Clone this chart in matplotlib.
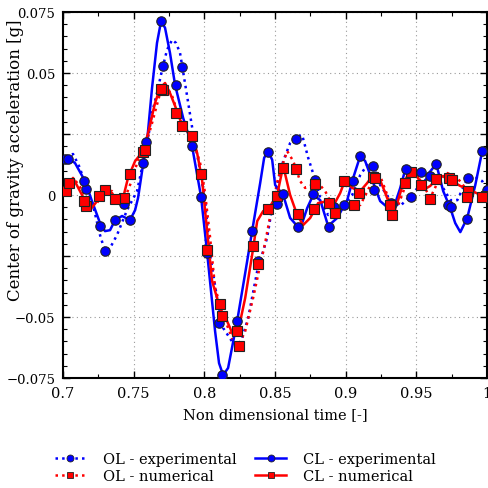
import matplotlib
matplotlib.use("Agg")

import matplotlib.pyplot as plt
from matplotlib.ticker import FixedLocator, FixedFormatter, MultipleLocator

plt.rcParams["font.family"] = ["DejaVu Serif"]
plt.rcParams["font.size"] = 10.5

# --- open loop, experimental (blue dotted) ---
ol_exp_t = [0.700, 0.7028, 0.7071, 0.7120, 0.7163, 0.7212, 0.7262, 0.7297, 0.7333, 0.7382,
            0.7453, 0.7524, 0.7566, 0.7602, 0.7630, 0.7665, 0.7701, 0.7736, 0.7772, 0.7800,
            0.7828, 0.7878, 0.7920, 0.7956, 0.8005, 0.8041, 0.8090, 0.8133, 0.8204, 0.8253,
            0.8310, 0.8374, 0.8444, 0.8487, 0.8558, 0.8607, 0.8650, 0.8692, 0.8735, 0.8784,
            0.8834, 0.8876, 0.8926, 0.8982, 0.9046, 0.9103, 0.9152, 0.9195, 0.9244, 0.9315,
            0.9386, 0.9457, 0.9528, 0.9598, 0.9669, 0.9740, 0.9790, 0.9846, 0.9903, 0.9966, 1.000]
ol_exp_a = [0.0131, 0.0160, 0.0168, 0.0111, 0.0029, -0.0041, -0.0164, -0.0230, -0.0217, -0.0164,
            -0.0062, 0.0016, 0.0131, 0.0234, 0.0336, 0.0418, 0.0513, 0.0595, 0.0636, 0.0623,
            0.0582, 0.0406, 0.0254, 0.0144, -0.0021, -0.0246, -0.0422, -0.0545, -0.0607, -0.0615,
            -0.0504, -0.0312, -0.0176, -0.0025, 0.0139, 0.0213, 0.0238, 0.0246, 0.0152, 0.0062,
            -0.0041, -0.0082, -0.0066, -0.0041, 0.0000, 0.0082, 0.0123, 0.0119, 0.0041, -0.0021,
            -0.0045, -0.0004, 0.0041, 0.0082, 0.0049, -0.0021, -0.0021, 0.0049, 0.0078, 0.0057, 0.0021]
ol_exp_mt = [0.7014, 0.7163, 0.7297, 0.7432, 0.7566, 0.7708, 0.7842, 0.7977, 0.8104, 0.8246,
             0.8381, 0.8515, 0.8650, 0.8784, 0.8919, 0.9053, 0.9195, 0.9329, 0.9464, 0.9598,
             0.9726, 0.9867, 1.000]
ol_exp_ma = [0.0148, 0.0025, -0.0230, -0.0037, 0.0131, 0.0529, 0.0525, -0.0008, -0.0525, -0.0619,
             -0.0271, -0.0037, 0.0230, 0.0062, -0.0049, 0.0057, 0.0119, -0.0037, -0.0008, 0.0078,
             -0.0041, 0.0070, 0.0021]

# --- closed loop, experimental (blue solid) ---
cl_exp_t = [0.700, 0.7035, 0.7085, 0.7156, 0.7205, 0.7262, 0.7297, 0.7333, 0.7368, 0.7418,
            0.7474, 0.7510, 0.7531, 0.7566, 0.7595, 0.7630, 0.7665, 0.7694, 0.7722, 0.7757,
            0.7793, 0.7850, 0.7913, 0.7977, 0.8020, 0.8076, 0.8104, 0.8133, 0.8168, 0.8232,
            0.8289, 0.8338, 0.8395, 0.8423, 0.8451, 0.8480, 0.8501, 0.8558, 0.8607, 0.8657,
            0.8692, 0.8728, 0.8770, 0.8820, 0.8876, 0.8940, 0.9011, 0.9053, 0.9103, 0.9138,
            0.9174, 0.9244, 0.9301, 0.9351, 0.9386, 0.9421, 0.9464, 0.9506, 0.9577, 0.9641,
            0.9690, 0.9740, 0.9775, 0.9811, 0.9860, 0.9917, 0.9966, 1.000]
cl_exp_a = [0.0144, 0.0152, 0.0131, 0.0057, -0.0025, -0.0115, -0.0148, -0.0144, -0.0103, -0.0086,
            -0.0103, -0.0062, -0.0012, 0.0123, 0.0221, 0.0439, 0.0623, 0.0713, 0.0685, 0.0582,
            0.0451, 0.0316, 0.0201, -0.0008, -0.0238, -0.0558, -0.0689, -0.0738, -0.0709, -0.0517,
            -0.0320, -0.0148, 0.0049, 0.0152, 0.0180, 0.0144, 0.0041, 0.0000, -0.0094, -0.0127,
            -0.0115, -0.0053, 0.0000, -0.0021, -0.0127, -0.0094, -0.0021, 0.0070, 0.0160, 0.0139,
            0.0082, -0.0025, -0.0053, -0.0033, 0.0029, 0.0103, 0.0111, 0.0098, 0.0082, 0.0127,
            0.0016, -0.0053, -0.0115, -0.0152, -0.0094, 0.0041, 0.0180, 0.0193]
cl_exp_mt = [0.7035, 0.7149, 0.7262, 0.7368, 0.7474, 0.7588, 0.7694, 0.7800, 0.7913, 0.8020,
             0.8126, 0.8232, 0.8338, 0.8451, 0.8558, 0.8664, 0.8770, 0.8883, 0.8989, 0.9103,
             0.9202, 0.9322, 0.9428, 0.9535, 0.9641, 0.9747, 0.9860, 0.9966]
cl_exp_ma = [0.0148, 0.0057, -0.0127, -0.0103, -0.0103, 0.0217, 0.0713, 0.0451, 0.0201, -0.0238,
             -0.0738, -0.0517, -0.0148, 0.0176, 0.0004, -0.0131, 0.0004, -0.0131, -0.0041, 0.0160,
             0.0021, -0.0033, 0.0107, 0.0094, 0.0127, -0.0049, -0.0098, 0.0180]

# --- open loop, numerical (red dotted) ---
ol_num_t = [0.700, 0.7035, 0.7085, 0.7134, 0.7191, 0.7241, 0.7297, 0.7347, 0.7389, 0.7439,
            0.7488, 0.7531, 0.7580, 0.7630, 0.7687, 0.7729, 0.7772, 0.7828, 0.7878, 0.7920,
            0.7970, 0.8005, 0.8041, 0.8076, 0.8133, 0.8196, 0.8239, 0.8289, 0.8345, 0.8395,
            0.8430, 0.8466, 0.8522, 0.8586, 0.8629, 0.8678, 0.8713, 0.8763, 0.8805, 0.8855,
            0.8904, 0.8947, 0.8996, 0.9046, 0.9103, 0.9159, 0.9209, 0.9244, 0.9294, 0.9329,
            0.9372, 0.9435, 0.9478, 0.9542, 0.9598, 0.9655, 0.9719, 0.9790, 0.9846, 0.9903,
            0.9973, 1.000]
ol_num_a = [0.0004, 0.0029, 0.0062, 0.0021, -0.0053, -0.0033, 0.0021, 0.0016, -0.0021, -0.0012,
            0.0062, 0.0144, 0.0193, 0.0295, 0.0418, 0.0447, 0.0406, 0.0308, 0.0262, 0.0226,
            0.0131, 0.0008, -0.0176, -0.0381, -0.0492, -0.0586, -0.0619, -0.0558, -0.0422, -0.0287,
            -0.0197, -0.0086, 0.0070, 0.0180, 0.0139, 0.0057, 0.0029, 0.0041, 0.0049, 0.0016,
            -0.0041, -0.0066, -0.0041, -0.0033, -0.0041, 0.0021, 0.0090, 0.0078, 0.0000, -0.0074,
            -0.0041, 0.0057, 0.0098, 0.0049, -0.0012, 0.0057, 0.0090, 0.0070, 0.0029, -0.0004,
            -0.0012, -0.0004]
ol_num_mt = [0.7021, 0.7163, 0.7297, 0.7432, 0.7566, 0.7708, 0.7842, 0.7977, 0.8111, 0.8246,
             0.8381, 0.8515, 0.8650, 0.8784, 0.8926, 0.9060, 0.9195, 0.9329, 0.9464, 0.9598,
             0.9733, 0.9867, 0.9995]
ol_num_ma = [0.0016, -0.0045, 0.0021, -0.0012, 0.0176, 0.0431, 0.0283, 0.0086, -0.0447, -0.0619,
             -0.0283, -0.0004, 0.0107, 0.0045, -0.0074, -0.0041, 0.0074, -0.0082, 0.0094, -0.0016,
             0.0070, 0.0016, -0.0004]

# --- closed loop, numerical (red solid) ---
cl_num_t = [0.700, 0.7035, 0.7071, 0.7120, 0.7191, 0.7241, 0.7297, 0.7347, 0.7389, 0.7425,
            0.7460, 0.7510, 0.7566, 0.7602, 0.7651, 0.7687, 0.7722, 0.7757, 0.7793, 0.7850,
            0.7913, 0.7949, 0.7984, 0.8005, 0.8055, 0.8111, 0.8161, 0.8204, 0.8239, 0.8289,
            0.8338, 0.8374, 0.8416, 0.8466, 0.8515, 0.8558, 0.8607, 0.8657, 0.8699, 0.8749,
            0.8805, 0.8869, 0.8912, 0.8961, 0.8996, 0.9046, 0.9103, 0.9152, 0.9188, 0.9223,
            0.9266, 0.9315, 0.9365, 0.9407, 0.9457, 0.9506, 0.9549, 0.9598, 0.9648, 0.9690,
            0.9740, 0.9811, 0.9881, 0.9952, 1.000]
cl_num_a = [0.0016, 0.0041, 0.0070, 0.0016, -0.0062, -0.0025, 0.0029, 0.0008, -0.0033, -0.0012,
            0.0070, 0.0139, 0.0180, 0.0254, 0.0377, 0.0439, 0.0459, 0.0418, 0.0365, 0.0275,
            0.0242, 0.0172, 0.0062, -0.0062, -0.0353, -0.0463, -0.0517, -0.0574, -0.0558, -0.0422,
            -0.0246, -0.0107, -0.0066, -0.0045, 0.0000, 0.0119, 0.0000, -0.0082, -0.0123, -0.0094,
            -0.0033, -0.0025, -0.0045, 0.0008, 0.0062, 0.0029, 0.0016, 0.0049, 0.0078, 0.0090,
            0.0029, -0.0045, -0.0033, 0.0049, 0.0098, 0.0078, 0.0021, 0.0037, 0.0070, 0.0078,
            0.0062, 0.0037, 0.0021, 0.0000, 0.0008]
cl_num_mt = [0.7042, 0.7149, 0.7255, 0.7368, 0.7474, 0.7580, 0.7694, 0.7800, 0.7913, 0.8020,
             0.8126, 0.8232, 0.8345, 0.8451, 0.8558, 0.8664, 0.8777, 0.8883, 0.8989, 0.9096,
             0.9209, 0.9315, 0.9421, 0.9535, 0.9641, 0.9754, 0.9860, 0.9966]
cl_num_ma = [0.0049, -0.0025, -0.0004, -0.0016, 0.0086, 0.0184, 0.0435, 0.0336, 0.0242, -0.0226,
             -0.0496, -0.0558, -0.0209, -0.0057, 0.0111, -0.0078, -0.0057, -0.0033, 0.0057, 0.0008,
             0.0070, -0.0041, 0.0049, 0.0041, 0.0066, 0.0062, -0.0008, -0.0008]

y_ticks = [-0.075, -0.05, -0.025, 0, 0.025, 0.05, 0.075]
y_tick_labels = ["\u22120.075", "\u22120.05", "", "0", "", "0.05", "0.075"]
x_ticks = [0.7, 0.75, 0.8, 0.85, 0.9, 0.95, 1.0]
x_tick_labels = ["0.7", "0.75", "0.8", "0.85", "0.9", "0.95", "1"]

BLUE = "#0000ff"
RED = "#ff0000"

fig = plt.figure(figsize=(4.88, 4.89), dpi=100)
ax = fig.add_axes([0.1291, 0.2249, 0.8689, 0.7485])

series = [
    (ol_exp_t, ol_exp_a, ol_exp_mt, ol_exp_ma, BLUE, ":", "o", "OL - experimental"),
    (ol_num_t, ol_num_a, ol_num_mt, ol_num_ma, RED, ":", "s", "OL - numerical"),
    (cl_exp_t, cl_exp_a, cl_exp_mt, cl_exp_ma, BLUE, "-", "o", "CL - experimental"),
    (cl_num_t, cl_num_a, cl_num_mt, cl_num_ma, RED, "-", "s", "CL - numerical"),
]

handles = {}
for t, a, mt, ma, col, ls, mk, lab in series:
    ax.plot(t, a, color=col, linestyle=ls, lw=1.8, zorder=2)
    ax.plot(mt, ma, linestyle="none", marker=mk, ms=6.8, mfc=col, mec="#222222",
            mew=0.8, zorder=3)
    # legend entry: line with a small marker in the middle
    h, = ax.plot([], [], color=col, linestyle=ls, lw=1.8, marker=mk, ms=5,
                 mfc=col, mec="#222222", mew=0.6)
    handles[lab] = h

ax.set_xlim(0.7, 1.0)
ax.set_ylim(-0.075, 0.075)

ax.xaxis.set_major_locator(FixedLocator(x_ticks))
ax.xaxis.set_major_formatter(FixedFormatter(x_tick_labels))
ax.xaxis.set_minor_locator(MultipleLocator(0.025))
ax.yaxis.set_major_locator(FixedLocator(y_ticks))
ax.yaxis.set_major_formatter(FixedFormatter(y_tick_labels))
ax.yaxis.set_minor_locator(MultipleLocator(0.005))

ax.tick_params(which="both", direction="in", top=True, right=True)
ax.tick_params(which="major", length=5, width=1.0)
ax.tick_params(which="minor", length=3, width=0.8)
ax.tick_params(axis="x", which="major", labelsize=10.5, pad=6)
ax.tick_params(axis="y", which="major", labelsize=9.5, pad=5.5)
for s in ax.spines.values():
    s.set_linewidth(1.5)

ax.grid(True, which="major", color="#999999", linestyle=(0, (1, 3)), lw=0.8)

ax.set_xlabel("Non dimensional time [-]", fontsize=10.5, labelpad=5)
ax.set_ylabel("Center of gravity acceleration [g]", fontsize=12)
ax.yaxis.set_label_coords(-0.092, 0.598)

order = ["OL - experimental", "OL - numerical", "CL - experimental", "CL - numerical"]
fig.legend([handles[k] for k in order], order, loc="upper left",
           bbox_to_anchor=(0.1, 0.086), ncol=2, frameon=False, fontsize=10.5,
           handlelength=2.1, handletextpad=1.2, columnspacing=1.3,
           labelspacing=0.22, numpoints=1, borderaxespad=0)

fig.savefig("out.png", dpi=100)
